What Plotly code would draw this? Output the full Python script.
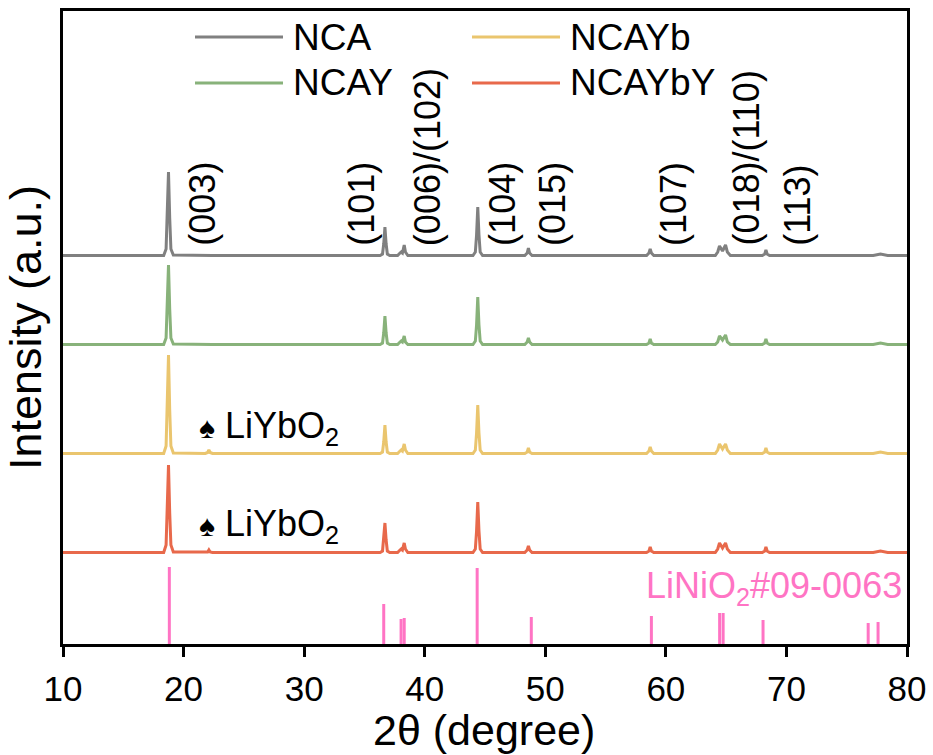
import plotly.graph_objects as go

# ---------------- data ----------------
two_theta = [
    10.0,
    18.35, 18.55, 18.65, 18.75, 18.85, 18.95, 19.15,
    21.8, 22.0, 22.1, 22.2, 22.4,
    36.3, 36.5, 36.6, 36.7, 36.8, 36.9, 37.1,
    37.75, 37.95, 38.05, 38.15, 38.3, 38.4, 38.6,
    44.0, 44.2, 44.3, 44.4, 44.5, 44.6, 44.8,
    48.3, 48.5, 48.6, 48.7, 48.9,
    58.4, 58.6, 58.7, 58.8, 59.0,
    64.1, 64.3, 64.45, 64.7, 64.95, 65.1, 65.35,
    68.0, 68.2, 68.3, 68.4, 68.6,
    77.2, 77.8, 78.4,
    80.0,
]

nca = [
    0.5,
    0.5, 7, 38, 84, 38, 7, 1,
    0.5, 0.5, 0.5, 0.5, 0.5,
    0.5, 2, 12, 29, 12, 2, 0.5,
    0.5, 3, 4, 3, 11, 4, 0.5,
    0.5, 4, 21, 49, 21, 4, 0.5,
    0.5, 3, 8, 3, 0.5,
    0.5, 3, 7, 3, 0.5,
    0.5, 4, 10, 5, 11, 4, 0.5,
    0.5, 2, 6, 2, 0.5,
    0.5, 2, 0.5,
    0.5,
]

ncay = [
    0.5,
    0.5, 7, 36, 80, 36, 7, 1,
    0.5, 0.5, 0.5, 0.5, 0.5,
    0.5, 2, 12, 29, 12, 2, 0.5,
    0.5, 3, 4, 3, 9, 3, 0.5,
    0.5, 4, 20, 48, 20, 4, 0.5,
    0.5, 3, 7, 3, 0.5,
    0.5, 2, 6, 2, 0.5,
    0.5, 3, 9, 5, 10, 3, 0.5,
    0.5, 2, 6, 2, 0.5,
    0.5, 2, 0.5,
    0.5,
]

ncayb = [
    0.5,
    0.5, 8, 44, 99, 44, 8, 1,
    0.5, 1.5, 4, 1.5, 0.5,
    0.5, 2, 12, 29, 12, 2, 0.5,
    0.5, 3, 4, 3, 10, 4, 0.5,
    0.5, 4, 21, 49, 21, 4, 0.5,
    0.5, 2, 6, 2, 0.5,
    0.5, 3, 7, 3, 0.5,
    0.5, 4, 10, 5, 10, 4, 0.5,
    0.5, 2, 6, 2, 0.5,
    0.5, 2, 0.5,
    0.5,
]

ncaybY = [
    0.5,
    0.5, 8, 40, 88, 40, 8, 1,
    0.5, 1, 3, 1, 0.5,
    0.5, 2, 13, 30, 13, 2, 0.5,
    0.5, 3, 4, 3, 10, 4, 0.5,
    0.5, 4, 22, 51, 22, 4, 0.5,
    0.5, 3, 7, 3, 0.5,
    0.5, 2, 6, 2, 0.5,
    0.5, 4, 10, 5, 10, 4, 0.5,
    0.5, 2, 6, 2, 0.5,
    0.5, 2, 0.5,
    0.5,
]

series_names = ["NCA", "NCAY", "NCAYb", "NCAYbY"]
series_values = [nca, ncay, ncayb, ncaybY]
series_offsets = [388, 299, 190, 91]
series_colors = ["#808080", "#88B27A", "#EAC56E", "#E8694B"]

ref_positions = [18.82, 36.6, 38.04, 38.3, 44.35, 48.84, 58.8, 64.46, 64.75, 68.06, 76.78, 77.6]
ref_heights = [77, 40, 25, 26, 76, 27, 28, 31, 31, 24, 21, 22]
ref_color = "#FF74C4"

hkl_labels = ["(003)", "(101)", "(006)/(102)", "(104)", "(015)", "(107)", "(018)/(110)", "(113)"]
hkl_positions = [21.5, 34.7, 40.2, 46.4, 50.55, 60.6, 66.65, 70.9]

x_ticks = [10, 20, 30, 40, 50, 60, 70, 80]

# ---------------- figure ----------------
FONT = "Liberation Sans, Arial, sans-serif"
W, H = 933, 755
L, R, T, B = 63, 26, 11, 111
PW, PH = W - L - R, H - T - B


def px(xp):
    return (xp - L) / PW


def py(yp):
    return (H - B - yp) / PH


fig = go.Figure()

for name, vals, off, col in zip(series_names, series_values, series_offsets, series_colors):
    fig.add_trace(go.Scatter(
        x=two_theta, y=[v + off for v in vals], mode="lines", name=name,
        line=dict(color=col, width=3), showlegend=False))

sx, sy = [], []
for p, h in zip(ref_positions, ref_heights):
    sx += [p, p, None]
    sy += [0, h, None]
fig.add_trace(go.Scatter(x=sx, y=sy, mode="lines", line=dict(color=ref_color, width=3),
                         name="LiNiO2#09-0063", showlegend=False))

annotations = []
for lab, pos in zip(hkl_labels, hkl_positions):
    annotations.append(dict(x=pos, y=396, xref="x", yref="y", text=lab, textangle=-90,
                            showarrow=False, xanchor="center", yanchor="bottom",
                            font=dict(family=FONT, size=36, color="black")))

# legend (manual, two columns)
leg = [("NCA", 195, 37), ("NCAY", 195, 83), ("NCAYb", 472, 37), ("NCAYbY", 472, 83)]
shapes = []
for (name, x0, yc), col in zip(leg, series_colors):
    shapes.append(dict(type="line", xref="paper", yref="paper", x0=px(x0), x1=px(x0 + 88),
                       y0=py(yc), y1=py(yc), line=dict(color=col, width=3)))
    annotations.append(dict(x=px(x0 + 96), y=py(yc), xref="paper", yref="paper", text=name,
                            showarrow=False, xanchor="left", yanchor="middle",
                            font=dict(family=FONT, size=37, color="black")))

# LiYbO2 markers
for yc in [428, 526]:
    annotations.append(dict(x=px(197), y=py(yc), xref="paper", yref="paper",
                            text="<span style='font-size:30px'>\u2660</span> LiYbO<sub>2</sub>",
                            showarrow=False, xanchor="left", yanchor="middle",
                            font=dict(family=FONT, size=36, color="black")))

annotations.append(dict(x=px(904), y=py(588), xref="paper", yref="paper",
                        text="LiNiO<sub>2</sub>#09-0063", showarrow=False,
                        xanchor="right", yanchor="middle",
                        font=dict(family=FONT, size=36, color=ref_color)))

# x-axis title placed as annotation
annotations.append(dict(x=px(484), y=py(730), xref="paper", yref="paper",
                        text="2θ (degree)", showarrow=False, xanchor="center", yanchor="middle",
                        font=dict(family=FONT, size=43, color="black")))

fig.update_layout(
    width=W, height=H,
    margin=dict(l=L, r=R, t=T, b=B, pad=0, autoexpand=False),
    paper_bgcolor="white", plot_bgcolor="white",
    font=dict(family=FONT, size=36, color="black"),
    annotations=annotations, shapes=shapes,
    showlegend=False,
)
fig.update_xaxes(range=[10, 80], tickvals=x_ticks, ticks="outside", ticklen=10, tickwidth=3,
                 tickcolor="black", showline=True, linewidth=3, linecolor="black", mirror=True,
                 showgrid=False, zeroline=False, automargin=False, ticklabelstandoff=2,
                 tickfont=dict(family=FONT, size=35))
fig.update_yaxes(range=[0, PH], showticklabels=False, ticks="", showline=True, linewidth=3,
                 linecolor="black", mirror=True, showgrid=False, zeroline=False, automargin=False,
                 title=dict(text="Intensity (a.u.)", font=dict(family=FONT, size=45), standoff=6))

fig.write_html("out.html")
